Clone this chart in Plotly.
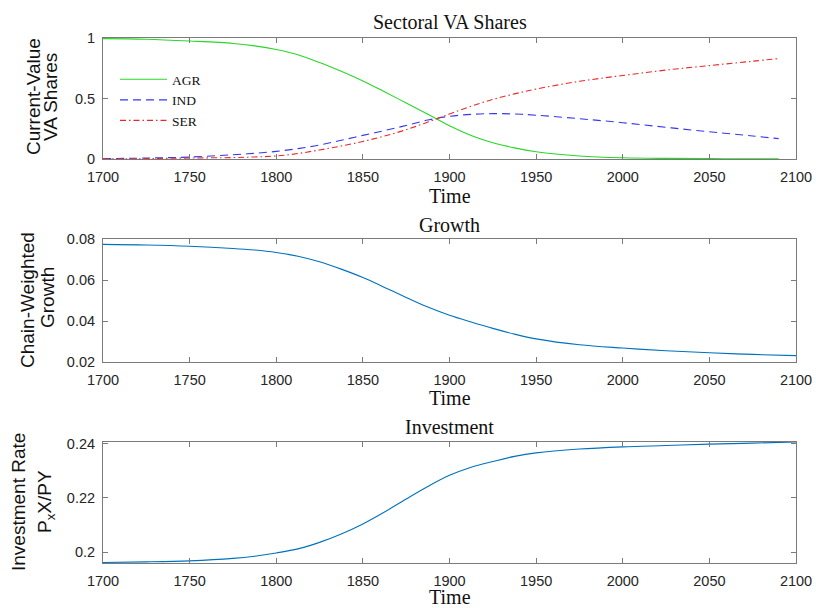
import plotly.graph_objects as go
from plotly.subplots import make_subplots

# ---- data ----
years_va = [1700, 1725, 1750, 1775, 1787.5, 1800, 1812.5, 1825, 1837.5, 1850, 1862.5, 1875,
            1887.5, 1900, 1912.5, 1925, 1937.5, 1950, 1975, 2000, 2025, 2050, 2075, 2090]
agr = [0.995, 0.99, 0.975, 0.955, 0.935, 0.905, 0.862, 0.798, 0.725, 0.645, 0.555, 0.463,
       0.37, 0.275, 0.195, 0.135, 0.092, 0.06, 0.025, 0.01, 0.005, 0.003, 0.002, 0.001]
ind = [0.003, 0.008, 0.016, 0.035, 0.047, 0.063, 0.086, 0.116, 0.155, 0.195, 0.235, 0.277,
       0.322, 0.353, 0.369, 0.375, 0.372, 0.362, 0.333, 0.30, 0.262, 0.225, 0.19, 0.168]
ser = [0.002, 0.003, 0.008, 0.012, 0.017, 0.025, 0.045, 0.075, 0.107, 0.145, 0.19, 0.242,
       0.305, 0.372, 0.436, 0.492, 0.538, 0.578, 0.642, 0.69, 0.735, 0.772, 0.808, 0.83]

years = [1700, 1725, 1750, 1775, 1787.5, 1800, 1812.5, 1825, 1837.5, 1850, 1862.5, 1875,
         1887.5, 1900, 1912.5, 1925, 1937.5, 1950, 1975, 2000, 2025, 2050, 2075, 2100]
growth = [0.0774, 0.0771, 0.0765, 0.0754, 0.0746, 0.0734, 0.0716, 0.0689, 0.0653, 0.0612, 0.0564,
          0.0515, 0.0468, 0.0428, 0.0395, 0.0364, 0.0336, 0.0313, 0.0284, 0.0268, 0.0255, 0.0245,
          0.0237, 0.0231]
invest = [0.1962, 0.1964, 0.1968, 0.1977, 0.1985, 0.1997, 0.2012, 0.2036, 0.2067, 0.2104, 0.2148,
          0.2196, 0.2242, 0.2283, 0.2313, 0.2334, 0.2353, 0.2366, 0.2380, 0.2388, 0.2393, 0.2398,
          0.2402, 0.2406]

x_ticks = [1700, 1750, 1800, 1850, 1900, 1950, 2000, 2050, 2100]

W, H = 816, 608
L, R = 103, 20

def dom(top, bottom):
    return [1 - bottom / H, 1 - top / H]

fig = make_subplots(rows=3, cols=1)

fig.add_trace(go.Scatter(x=years_va, y=agr, name="AGR", mode="lines", line_shape="spline",
                         line=dict(color="rgb(40,215,40)", width=1.1)), row=1, col=1)
fig.add_trace(go.Scatter(x=years_va, y=ind, name="IND", mode="lines", line_shape="spline",
                         line=dict(color="rgb(55,55,235)", width=1.1, dash="8px,5px")), row=1, col=1)
fig.add_trace(go.Scatter(x=years_va, y=ser, name="SER", mode="lines", line_shape="spline",
                         line=dict(color="rgb(235,40,40)", width=1.1, dash="6px,3px,1.5px,3px")),
              row=1, col=1)
fig.add_trace(go.Scatter(x=years, y=growth, mode="lines", line_shape="spline", showlegend=False,
                         line=dict(color="rgb(0,114,189)", width=1.1)), row=2, col=1)
fig.add_trace(go.Scatter(x=years, y=invest, mode="lines", line_shape="spline", showlegend=False,
                         line=dict(color="rgb(0,114,189)", width=1.1)), row=3, col=1)

axis_common = dict(showline=True, linecolor="#7a7a7a", linewidth=1, mirror="ticks",
                   ticks="inside", ticklen=5, tickcolor="#7a7a7a", showgrid=False,
                   zeroline=False, automargin=False,
                   tickfont=dict(family="Liberation Sans", size=14.5, color="#262626"))

doms = [dom(38, 159), dom(239, 362), dom(442, 563)]
yranges = [[0, 1], [0.02, 0.08], [0.196, 0.2406]]
yticks = [[0, 0.5, 1], [0.02, 0.04, 0.06, 0.08], [0.2, 0.22, 0.24]]
yticktext = [["0", "0.5", "1"], ["0.02", "0.04", "0.06", "0.08"], ["0.2", "0.22", "0.24"]]

for i in range(3):
    fig.update_xaxes(range=[1700, 2100], tickvals=x_ticks, ticklabelstandoff=5,
                     **axis_common, row=i + 1, col=1)
    fig.update_yaxes(range=yranges[i], domain=doms[i], tickvals=yticks[i], ticktext=yticktext[i],
                     ticklabelstandoff=4, **axis_common, row=i + 1, col=1)

serif = dict(family="Liberation Serif", size=20, color="#111111")
sans = dict(family="Liberation Sans", size=19, color="#111111")

def py(p):
    return 1 - p / H

def px(p):
    return (p - L) / (W - L - R)

annotations = []
for txt, ypix in [("Sectoral VA Shares", 22), ("Growth", 225), ("Investment", 427)]:
    annotations.append(dict(text=txt, x=0.5, y=py(ypix), xref="paper", yref="paper",
                            xanchor="center", yanchor="middle", showarrow=False, font=serif))
for ypix in [196, 398, 597]:
    annotations.append(dict(text="Time", x=0.5, y=py(ypix), xref="paper", yref="paper",
                            xanchor="center", yanchor="middle", showarrow=False, font=serif))
for txt, xpix, ypix in [("Current-Value", 34, 97), ("VA Shares", 51, 97),
                        ("Chain-Weighted", 27, 300), ("Growth", 48, 298),
                        ("Investment Rate", 18, 502), ("P<sub>x</sub>X/PY", 46, 502)]:
    annotations.append(dict(text=txt, x=px(xpix), y=py(ypix), xref="paper", yref="paper",
                            xanchor="center", yanchor="middle", showarrow=False,
                            textangle=-90, font=sans))

fig.update_layout(
    width=W, height=H,
    margin=dict(l=L, r=R, t=0, b=0, autoexpand=False),
    paper_bgcolor="white", plot_bgcolor="white",
    annotations=annotations,
    legend=dict(x=px(115), y=py(64), xanchor="left", yanchor="top",
                bgcolor="rgba(0,0,0,0)", borderwidth=0, itemwidth=47,
                font=dict(family="Liberation Serif", size=13.5, color="#111111"),
                tracegroupgap=0),
)

fig.write_html("out.html", config={"displayModeBar": False},
               post_script="document.body.style.margin='0';document.body.style.overflow='hidden';")
